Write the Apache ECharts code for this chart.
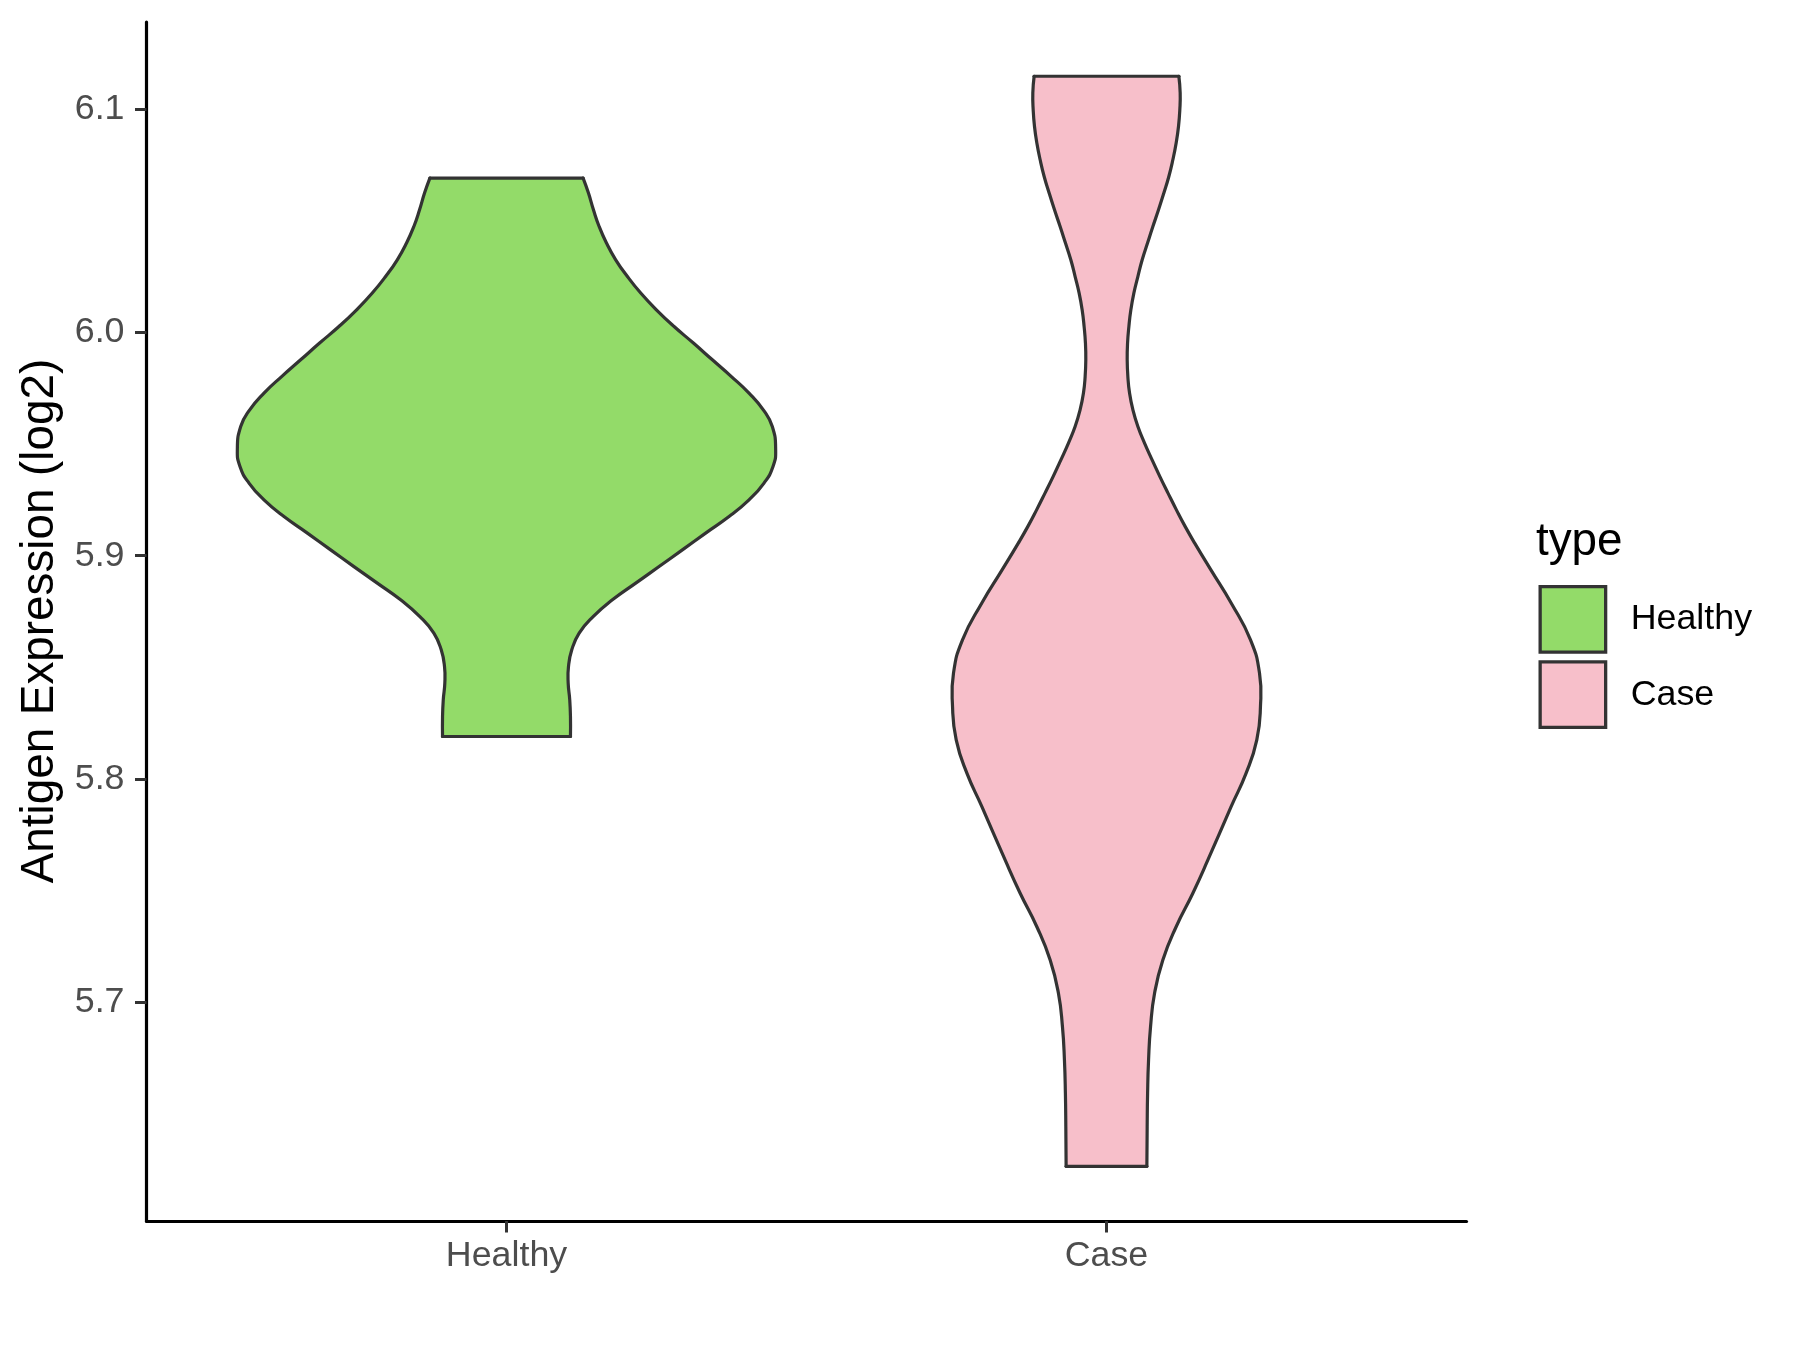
<!DOCTYPE html>
<html>
<head>
<meta charset="utf-8">
<title>Antigen Expression violin</title>
<script src="https://cdn.jsdelivr.net/npm/echarts@6/dist/echarts.min.js"></script>
<style>
  html, body { margin: 0; padding: 0; background: #fff; }
  #chart { width: 1800px; height: 1350px; }
</style>
</head>
<body>
<div id="chart"></div>
<script>
// Categories and y ticks
const categories = ['Healthy', 'Case']
const yTicks = [5.7, 5.8, 5.9, 6.0, 6.1]

// Violin outlines: value (log2) and half width (category units), bottom to top
const healthyValue = [5.8190, 5.8279, 5.8354, 5.8429, 5.8503, 5.8578, 5.8653, 5.8727, 5.8802, 5.8877, 5.8951, 5.9026, 5.9101, 5.9175, 5.9250, 5.9325, 5.9399, 5.9474, 5.9578, 5.9653, 5.9728, 5.9802, 5.9877, 5.9952, 6.0026, 6.0101, 6.0176, 6.0250, 6.0325, 6.0400, 6.0474, 6.0549, 6.0624, 6.0691]
const healthyHalfWidth = [0.1066, 0.1066, 0.1054, 0.1028, 0.1033, 0.1088, 0.1211, 0.1444, 0.1765, 0.2154, 0.2543, 0.2931, 0.3319, 0.3709, 0.4042, 0.4292, 0.4442, 0.4486, 0.4430, 0.4280, 0.4042, 0.3748, 0.3431, 0.3115, 0.2793, 0.2498, 0.2237, 0.2015, 0.1820, 0.1666, 0.1544, 0.1449, 0.1366, 0.1277]

const caseValue = [5.6265, 5.6442, 5.6592, 5.6741, 5.6890, 5.7040, 5.7189, 5.7338, 5.7488, 5.7637, 5.7876, 5.8026, 5.8175, 5.8324, 5.8474, 5.8623, 5.8787, 5.8936, 5.9056, 5.9131, 5.9205, 5.9280, 5.9354, 5.9429, 5.9504, 5.9578, 5.9653, 5.9728, 5.9802, 5.9877, 5.9952, 6.0026, 6.0101, 6.0176, 6.0250, 6.0325, 6.0400, 6.0474, 6.0549, 6.0624, 6.0698, 6.0773, 6.0848, 6.0922, 6.0997, 6.1072, 6.1147]
const caseHalfWidth = [0.0673, 0.0678, 0.0685, 0.0701, 0.0734, 0.0801, 0.0939, 0.1161, 0.1439, 0.1690, 0.2077, 0.2327, 0.2505, 0.2566, 0.2550, 0.2400, 0.2080, 0.1740, 0.1470, 0.1310, 0.1165, 0.1025, 0.0890, 0.0760, 0.0634, 0.0523, 0.0440, 0.0384, 0.0356, 0.0345, 0.0351, 0.0373, 0.0406, 0.0456, 0.0523, 0.0595, 0.0684, 0.0773, 0.0867, 0.0956, 0.1039, 0.1106, 0.1161, 0.1200, 0.1222, 0.1228, 0.1206]

const FONT = '"Liberation Sans", Arial, sans-serif'
const OUTLINE = '#333333'
const GREEN = '#93db69'
const PINK = '#f7bfca'

// Build a renderItem for one violin (fill polygon + smoothed outline)
const violinRenderer = (values, halfWidths, fill) => (params, api) => {
  const pos = api.value(0)
  const left = values.map((v, i) => api.coord([pos - halfWidths[i], v]))
  const right = values.map((v, i) => api.coord([pos + halfWidths[i], v])).reverse()
  const line = { stroke: OUTLINE, lineWidth: 3.2, fill: null, lineJoin: 'round', lineCap: 'round' }
  const top = [left[left.length - 1], right[0]]
  const bottom = [left[0], right[right.length - 1]]
  return {
    type: 'group',
    children: [
      { type: 'polygon', shape: { points: left.concat(right), smooth: 0 }, style: { fill: fill, stroke: null } },
      { type: 'polyline', shape: { points: left, smooth: 0.5 }, style: line },
      { type: 'polyline', shape: { points: right, smooth: 0.5 }, style: line },
      { type: 'polyline', shape: { points: top }, style: line },
      { type: 'polyline', shape: { points: bottom }, style: line }
    ]
  }
}

const chart = echarts.init(document.getElementById('chart'))

chart.setOption({
  animation: false,
  backgroundColor: '#ffffff',
  grid: { left: 146.5, right: 333.5, top: 22, bottom: 129 },
  xAxis: {
    type: 'value',
    min: 0.4,
    max: 2.6,
    splitLine: { show: false },
    axisLine: { show: true, lineStyle: { color: '#000', width: 3.2 } },
    axisTick: { show: true, customValues: [1, 2], length: 11.5, lineStyle: { color: OUTLINE, width: 3 } },
    axisLabel: {
      customValues: [1, 2],
      formatter: v => categories[Math.round(v) - 1],
      margin: 17,
      fontSize: 35.8,
      fontFamily: FONT,
      color: '#4d4d4d'
    }
  },
  yAxis: {
    type: 'value',
    min: 5.602,
    max: 6.139,
    splitLine: { show: false },
    axisLine: { show: true, lineStyle: { color: '#000', width: 3.2 } },
    axisTick: { show: true, customValues: yTicks, length: 11.5, lineStyle: { color: OUTLINE, width: 3 } },
    axisLabel: {
      customValues: yTicks,
      formatter: v => v.toFixed(1),
      margin: 22,
      fontSize: 35.8,
      fontFamily: FONT,
      color: '#4d4d4d'
    }
  },
  legend: {
    orient: 'vertical',
    left: 1538.5,
    top: 585,
    padding: 0,
    itemWidth: 65.5,
    itemHeight: 65.5,
    itemGap: 6.5,
    selectedMode: false,
    icon: 'rect',
    itemStyle: { borderColor: OUTLINE, borderWidth: 3.3 },
    textStyle: { fontSize: 35.8, fontFamily: FONT, color: '#000', padding: [0, 0, 0, 20] },
    data: categories
  },
  graphic: [
    {
      type: 'text',
      x: 40,
      y: 621,
      rotation: Math.PI / 2,
      style: {
        text: 'Antigen Expression (log2)',
        fontSize: 45.8,
        fontFamily: FONT,
        fill: '#000',
        align: 'center',
        verticalAlign: 'middle'
      }
    },
    {
      type: 'text',
      x: 1536,
      y: 542.5,
      style: {
        text: 'type',
        fontSize: 45.8,
        fontFamily: FONT,
        fill: '#000',
        align: 'left',
        verticalAlign: 'middle'
      }
    }
  ],
  series: [
    {
      name: 'Healthy',
      type: 'custom',
      itemStyle: { color: GREEN },
      renderItem: violinRenderer(healthyValue, healthyHalfWidth, GREEN),
      data: [[1]]
    },
    {
      name: 'Case',
      type: 'custom',
      itemStyle: { color: PINK },
      renderItem: violinRenderer(caseValue, caseHalfWidth, PINK),
      data: [[2]]
    }
  ]
})
</script>
</body>
</html>
